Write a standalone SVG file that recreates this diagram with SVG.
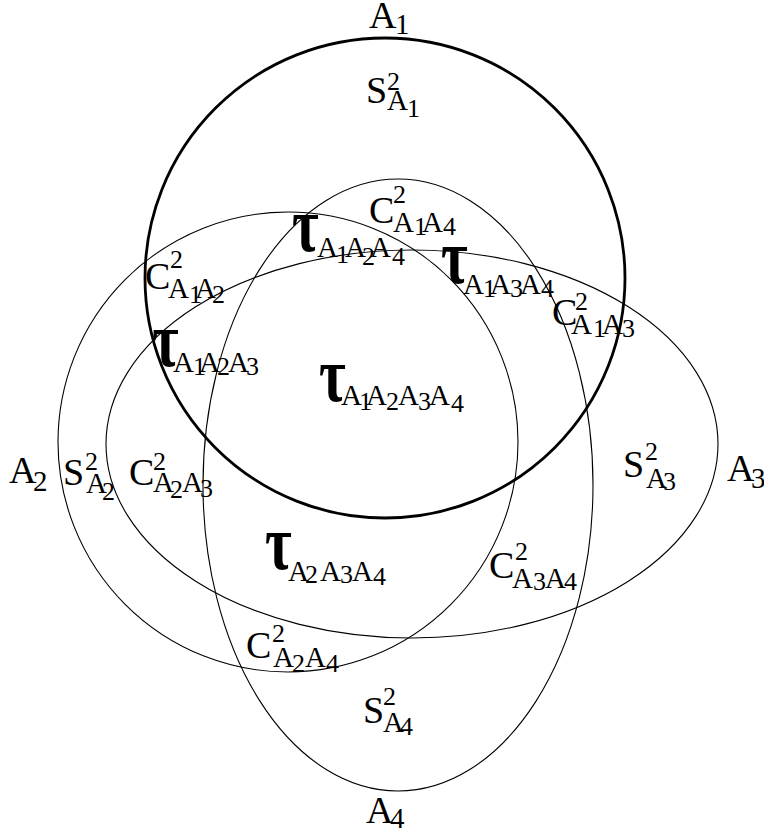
<svg xmlns="http://www.w3.org/2000/svg" width="764" height="836" viewBox="0 0 764 836">
<style>
.c{fill:none;stroke:#000;stroke-width:1.1}
.k{stroke-width:2.8}
text{font-family:"Liberation Serif","Times New Roman",serif;fill:#000}
.m{font-size:38px}
.t{font-size:58px;font-weight:bold}
.p{font-size:26px}
.s{font-size:29px}
.d{font-size:26px}
</style>
<rect width="764" height="836" fill="#fff"/>
<g id="sets">
<g id="set-A2"><circle class="c" cx="288" cy="442" r="230"/></g>
<g id="set-A3"><ellipse class="c" cx="412" cy="444" rx="306" ry="194"/></g>
<g id="set-A4"><ellipse class="c" cx="398" cy="485" rx="195" ry="306"/></g>
<g id="set-A1"><circle class="c k" cx="385" cy="278" r="240"/></g>
</g>
<g id="set-labels">
<text id="lbl-A1"><tspan class="m" x="369" y="28">A</tspan><tspan class="s" x="395" y="34">1</tspan></text>
<text id="lbl-A2"><tspan class="m" x="9" y="483">A</tspan><tspan class="s" x="33" y="491">2</tspan></text>
<text id="lbl-A3"><tspan class="m" x="727" y="481">A</tspan><tspan class="s" x="751" y="488">3</tspan></text>
<text id="lbl-A4"><tspan class="m" x="366" y="823">A</tspan><tspan class="s" x="390" y="828">4</tspan></text>
</g>
<g id="regions">
<text id="S-A1"><tspan class="m" x="366" y="103">S</tspan><tspan class="p" x="387" y="90">2</tspan><tspan class="s" x="387" y="110">A</tspan><tspan class="d" x="407" y="117">1</tspan></text>
<text id="S-A2"><tspan class="m" x="63" y="485">S</tspan><tspan class="p" x="85" y="470">2</tspan><tspan class="s" x="86" y="493">A</tspan><tspan class="d" x="102" y="500">2</tspan></text>
<text id="S-A3"><tspan class="m" x="623" y="477">S</tspan><tspan class="p" x="645" y="460">2</tspan><tspan class="s" x="646" y="488">A</tspan><tspan class="d" x="663" y="490">3</tspan></text>
<text id="S-A4"><tspan class="m" x="363" y="723">S</tspan><tspan class="p" x="383" y="705">2</tspan><tspan class="s" x="383" y="732">A</tspan><tspan class="d" x="400" y="735">4</tspan></text>
<text id="C-A1A4"><tspan class="m" x="369" y="223">C</tspan><tspan class="p" x="393" y="203">2</tspan><tspan class="s" x="393" y="232">A</tspan><tspan class="d" x="414" y="235">1</tspan><tspan class="s" x="422" y="232">A</tspan><tspan class="d" x="443" y="235">4</tspan></text>
<text id="C-A1A2"><tspan class="m" x="145" y="289">C</tspan><tspan class="p" x="170" y="268">2</tspan><tspan class="s" x="168" y="298">A</tspan><tspan class="d" x="189" y="303">1</tspan><tspan class="s" x="195" y="298">A</tspan><tspan class="d" x="212" y="303">2</tspan></text>
<text id="C-A1A3"><tspan class="m" x="552" y="325">C</tspan><tspan class="p" x="575" y="310">2</tspan><tspan class="s" x="571" y="334">A</tspan><tspan class="d" x="593" y="337">1</tspan><tspan class="s" x="602" y="334">A</tspan><tspan class="d" x="622" y="337">3</tspan></text>
<text id="C-A2A3"><tspan class="m" x="129" y="485">C</tspan><tspan class="p" x="153" y="470">2</tspan><tspan class="s" x="153" y="492">A</tspan><tspan class="d" x="170" y="498">2</tspan><tspan class="s" x="182" y="492">A</tspan><tspan class="d" x="200" y="497">3</tspan></text>
<text id="C-A3A4"><tspan class="m" x="489" y="578">C</tspan><tspan class="p" x="515" y="560">2</tspan><tspan class="s" x="512" y="588">A</tspan><tspan class="d" x="533" y="590">3</tspan><tspan class="s" x="545" y="588">A</tspan><tspan class="d" x="564" y="590">4</tspan></text>
<text id="C-A2A4"><tspan class="m" x="246" y="658">C</tspan><tspan class="p" x="272" y="642">2</tspan><tspan class="s" x="273" y="667">A</tspan><tspan class="d" x="292" y="672">2</tspan><tspan class="s" x="305" y="667">A</tspan><tspan class="d" x="326" y="672">4</tspan></text>
<g id="T-A1A2A4"><text class="t" transform="translate(292,251) scale(1,1.35)">τ</text><text><tspan class="s" x="317" y="257">A</tspan><tspan class="d" x="336" y="263">1</tspan><tspan class="s" x="345" y="257">A</tspan><tspan class="d" x="362" y="265">2</tspan><tspan class="s" x="370" y="257">A</tspan><tspan class="d" x="392" y="265">4</tspan></text></g>
<g id="T-A1A3A4"><text class="t" transform="translate(441,283) scale(1,1.35)">τ</text><text><tspan class="s" x="463" y="294">A</tspan><tspan class="d" x="483" y="297">1</tspan><tspan class="s" x="490" y="294">A</tspan><tspan class="d" x="510" y="297">3</tspan><tspan class="s" x="520" y="294">A</tspan><tspan class="d" x="541" y="297">4</tspan></text></g>
<g id="T-A1A2A3"><text class="t" transform="translate(152,366) scale(1,1.35)">τ</text><text><tspan class="s" x="173" y="372">A</tspan><tspan class="d" x="193" y="375">1</tspan><tspan class="s" x="199" y="372">A</tspan><tspan class="d" x="217" y="375">2</tspan><tspan class="s" x="228" y="372">A</tspan><tspan class="d" x="246" y="375">3</tspan></text></g>
<g id="T-A1A2A3A4"><text class="t" transform="translate(319,401) scale(1,1.35)">τ</text><text><tspan class="s" x="341" y="405">A</tspan><tspan class="d" x="359" y="410">1</tspan><tspan class="s" x="366" y="405">A</tspan><tspan class="d" x="386" y="410">2</tspan><tspan class="s" x="398" y="405">A</tspan><tspan class="d" x="418" y="410">3</tspan><tspan class="s" x="429" y="405">A</tspan><tspan class="d" x="451" y="412">4</tspan></text></g>
<g id="T-A2A3A4"><text class="t" transform="translate(265,569) scale(1,1.35)">τ</text><text><tspan class="s" x="288" y="581">A</tspan><tspan class="d" x="305" y="583">2</tspan><tspan class="s" x="320" y="581">A</tspan><tspan class="d" x="340" y="583">3</tspan><tspan class="s" x="352" y="581">A</tspan><tspan class="d" x="373" y="585">4</tspan></text></g>
</g>
</svg>
